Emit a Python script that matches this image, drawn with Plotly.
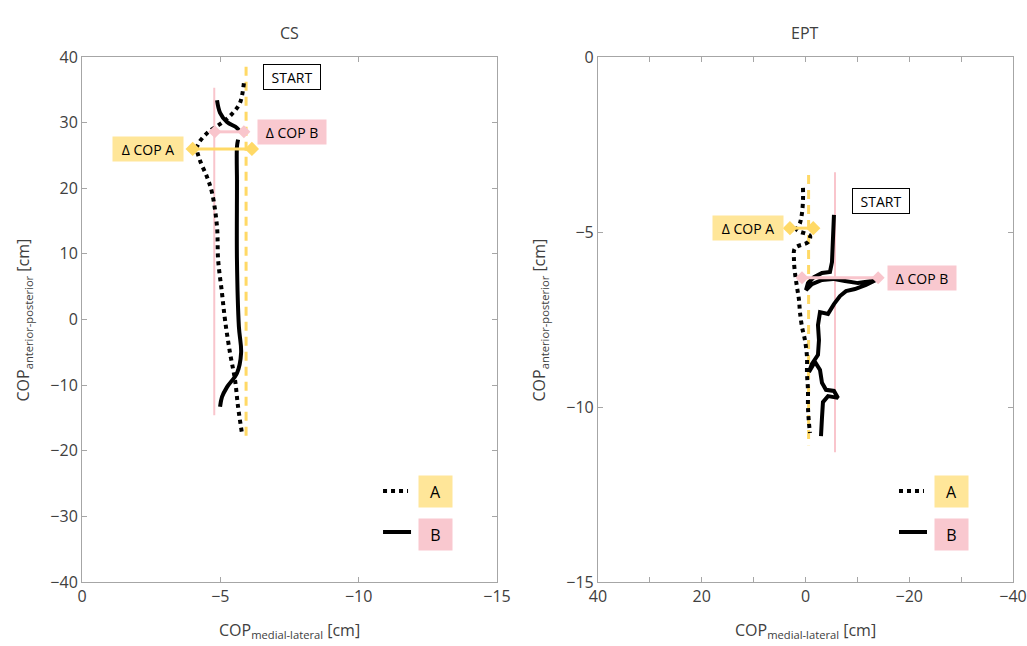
import plotly.graph_objects as go

# ---------------- data ----------------
# CS panel (left)
cs_a_x = [-5.85, -5.71, -5.46, -5.10, -4.52, -4.16, -4.26, -4.52, -4.70, -4.88, -4.92, -5.06, -5.17, -5.35, -5.53, -5.64, -5.78]
cs_a_y = [36.0, 33.0, 31.5, 30.1, 28.4, 26.3, 24.3, 21.7, 19.3, 14.1, 9.1, 4.0, -0.1, -5.1, -9.2, -13.3, -17.3]
cs_b_x = [-4.88, -4.99, -5.24, -5.60, -5.71, None, -5.64, -5.60, -5.60, -5.60, -5.60, -5.67, -5.75, -5.60, -5.24, -5.06, -4.99]
cs_b_y = [33.4, 31.5, 30.1, 29.2, 28.6, None, 27.4, 26.3, 21.3, 19.3, 9.1, -1.1, -5.1, -8.2, -10.3, -11.8, -13.3]
cs_ref_a_x = [-5.93, -5.93]
cs_ref_a_y = [38.5, -18.5]
cs_ref_b_x = [-4.78, -4.78]
cs_ref_b_y = [35.3, -14.6]
cs_delta_a_x = [-4.0, -6.14]
cs_delta_a_y = [26.0, 26.0]
cs_delta_b_x = [-4.8, -5.85]
cs_delta_b_y = [28.6, 28.6]

# EPT panel (right)
ept_a_x = [0.48, 0.48, 0.67, 1.05, 1.64, -0.87, -0.48, 2.02, 2.22, 2.02, 1.64, 1.25, 1.05, 0.67, 0.10, -0.29, -0.29, -0.48, -0.48, -0.67, -0.87]
ept_a_y = [-3.74, -4.09, -4.46, -4.74, -4.94, -5.11, -5.29, -5.46, -5.80, -6.17, -6.57, -6.94, -7.31, -7.71, -8.09, -8.57, -9.03, -9.51, -10.0, -10.46, -10.74]
ept_b_x = [-5.49, -5.30, -5.11, -4.72, -3.18, -1.64, -0.48, -0.10, -1.25, -3.18, -5.30, -7.61, -10.12, -12.82, -13.59, -11.66, -9.54, -7.81, -6.65, -5.49, -4.34, -2.80, -2.41, -2.60, -2.41, -1.25, -0.67, -1.83, -2.80, -3.18, -3.95, -5.49, -6.27, -4.34, -3.37, -3.18, -2.99]
ept_b_y = [-4.51, -5.23, -5.86, -6.14, -6.17, -6.29, -6.46, -6.66, -6.49, -6.37, -6.34, -6.40, -6.46, -6.40, -6.37, -6.51, -6.63, -6.69, -6.83, -7.06, -7.34, -7.29, -7.66, -8.09, -8.51, -8.77, -9.0, -8.71, -8.94, -9.31, -9.51, -9.54, -9.74, -9.69, -9.86, -10.31, -10.83]
ept_ref_a_x = [-0.6, -0.6]
ept_ref_a_y = [-3.37, -11.09]
ept_ref_b_x = [-5.69, -5.69]
ept_ref_b_y = [-3.29, -11.29]
ept_delta_a_x = [3.0, -1.5]
ept_delta_a_y = [-4.89, -4.89]
ept_delta_b_x = [0.67, -14.0]
ept_delta_b_y = [-6.31, -6.31]

panel_titles = ["CS", "EPT"]
cs_xticks = [0, -5, -10, -15]
cs_yticks = [40, 30, 20, 10, 0, -10, -20, -30, -40]
ept_xticks = [40, 20, 0, -20, -40]
ept_yticks = [0, -5, -10, -15]

# ---------------- style ----------------
YEL_LINE = "#FFD966"
YEL_BOX = "#FFE699"
PINK_LINE = "#F9C5CC"
PINK_BOX = "#F9C8CF"
TXT = "#404040"
AXC = "#A6A6A6"
FONT = "Open Sans"

fig = go.Figure()

def add_panel(xa, ya, ax, ay, bx, by, rax, ray, rbx, rby, dax, day, dbx, dby, bshape):
    fig.add_trace(go.Scatter(x=rax, y=ray, mode="lines", line=dict(color=YEL_LINE, width=3, dash="9px,6px"),
                             xaxis=xa, yaxis=ya, showlegend=False, hoverinfo="skip"))
    fig.add_trace(go.Scatter(x=rbx, y=rby, mode="lines", line=dict(color=PINK_LINE, width=2),
                             xaxis=xa, yaxis=ya, showlegend=False, hoverinfo="skip"))
    fig.add_trace(go.Scatter(x=ax, y=ay, mode="lines", line=dict(color="black", width=4, dash="4px,4px", shape="spline"),
                             xaxis=xa, yaxis=ya, showlegend=False))
    fig.add_trace(go.Scatter(x=bx, y=by, mode="lines", line=dict(color="black", width=4, shape=bshape),
                             xaxis=xa, yaxis=ya, showlegend=False, connectgaps=False))
    fig.add_trace(go.Scatter(x=dbx, y=dby, mode="lines+markers", line=dict(color=PINK_LINE, width=3),
                             marker=dict(symbol="diamond", size=10, color=PINK_LINE),
                             xaxis=xa, yaxis=ya, showlegend=False))
    fig.add_trace(go.Scatter(x=dax, y=day, mode="lines+markers", line=dict(color=YEL_LINE, width=3),
                             marker=dict(symbol="diamond", size=11, color=YEL_LINE),
                             xaxis=xa, yaxis=ya, showlegend=False))

add_panel("x", "y", cs_a_x, cs_a_y, cs_b_x, cs_b_y, cs_ref_a_x, cs_ref_a_y, cs_ref_b_x, cs_ref_b_y,
          cs_delta_a_x, cs_delta_a_y, cs_delta_b_x, cs_delta_b_y, "spline")
add_panel("x2", "y2", ept_a_x, ept_a_y, ept_b_x, ept_b_y, ept_ref_a_x, ept_ref_a_y, ept_ref_b_x, ept_ref_b_y,
          ept_delta_a_x, ept_delta_a_y, ept_delta_b_x, ept_delta_b_y, "linear")

axis_common = dict(showline=True, linecolor=AXC, linewidth=1, mirror="allticks", ticks="inside",
                   ticklen=5, tickcolor=AXC, showgrid=False, zeroline=False,
                   tickfont=dict(family=FONT, size=16, color=TXT), fixedrange=True)

fig.update_layout(
    width=1027, height=646,
    margin=dict(l=82, r=14, t=57, b=64, autoexpand=False),
    paper_bgcolor="white", plot_bgcolor="white",
    font=dict(family=FONT, color=TXT),
    xaxis=dict(domain=[0, 0.4458], range=[0, -15], tickvals=cs_xticks, anchor="y", **axis_common),
    yaxis=dict(domain=[0, 1], range=[-40, 40], tickvals=cs_yticks, anchor="x", **axis_common),
    xaxis2=dict(domain=[0.5542, 1], range=[40, -40], tickvals=ept_xticks, anchor="y2",
                minor=dict(dtick=10, tick0=0, ticks="inside", ticklen=5, tickcolor=AXC), **axis_common),
    yaxis2=dict(domain=[0, 1], range=[-15, 0], tickvals=ept_yticks, anchor="x2", **axis_common),
)

ann = []
# panel titles
for xr, t in zip(["x domain", "x2 domain"], panel_titles):
    ann.append(dict(text=t, xref=xr, yref="paper", x=0.5, y=1 + 24 / 525, yanchor="middle",
                    showarrow=False, font=dict(family=FONT, size=16, color=TXT)))
# axis titles
for xr, yr in [("x", "y"), ("x2", "y2")]:
    ann.append(dict(text="COP<sub>medial-lateral</sub> [cm]", xref=xr + " domain", yref=yr + " domain",
                    x=0.5, y=-48 / 525, yanchor="middle", showarrow=False,
                    font=dict(family=FONT, size=16, color=TXT)))
    ann.append(dict(text="COP<sub>anterior-posterior</sub> [cm]", xref=xr + " domain", yref=yr + " domain",
                    x=-58 / 415, y=0.5, xanchor="center", yanchor="middle", textangle=-90, showarrow=False,
                    font=dict(family=FONT, size=16, color=TXT)))

def label(xr, yr, x, y, text, bg, w, h, border=None):
    d = dict(text=text, xref=xr, yref=yr, x=x, y=y, xanchor="center", yanchor="middle", showarrow=False,
             bgcolor=bg, width=w, height=h, font=dict(family=FONT, size=14, color="black"))
    if border:
        d.update(bordercolor=border, borderwidth=1)
    return d

# CS annotations
ann.append(label("x", "y", -2.39, 26.0, "Δ COP A", YEL_BOX, 68, 22))
ann.append(label("x", "y", -7.59, 28.6, "Δ COP B", PINK_BOX, 66, 22))
ann.append(label("x", "y", -7.59, 36.95, "START", "white", 54, 22, border="black"))
# EPT annotations
ann.append(label("x2", "y2", 11.08, -4.89, "Δ COP A", YEL_BOX, 68, 22))
ann.append(label("x2", "y2", -22.46, -6.31, "Δ COP B", PINK_BOX, 66, 22))
ann.append(label("x2", "y2", -14.55, -4.11, "START", "white", 54, 22, border="black"))

shapes = []
# custom legends
for xr, yr in [("x", "y"), ("x2", "y2")]:
    shapes.append(dict(type="line", xref=xr + " domain", yref=yr + " domain", x0=301 / 415, x1=326 / 415,
                       y0=91 / 525, y1=91 / 525, line=dict(color="black", width=4, dash="4px,4px")))
    shapes.append(dict(type="line", xref=xr + " domain", yref=yr + " domain", x0=301 / 415, x1=329 / 415,
                       y0=50 / 525, y1=50 / 525, line=dict(color="black", width=4)))
    ann.append(dict(text="A", xref=xr + " domain", yref=yr + " domain", x=353.5 / 415, y=91 / 525,
                    xanchor="center", yanchor="middle", showarrow=False, bgcolor=YEL_BOX, width=31, height=29,
                    font=dict(family=FONT, size=16, color="black")))
    ann.append(dict(text="B", xref=xr + " domain", yref=yr + " domain", x=353.5 / 415, y=48 / 525,
                    xanchor="center", yanchor="middle", showarrow=False, bgcolor=PINK_BOX, width=31, height=29,
                    font=dict(family=FONT, size=16, color="black")))

fig.update_layout(annotations=ann, shapes=shapes)
# remove the browser's default 8 px body margin so the 1027x646 figure fills the window exactly
fig.write_html("out.html", config={"displayModeBar": False},
               post_script="document.body.style.margin='0px';document.body.style.overflow='hidden';")
